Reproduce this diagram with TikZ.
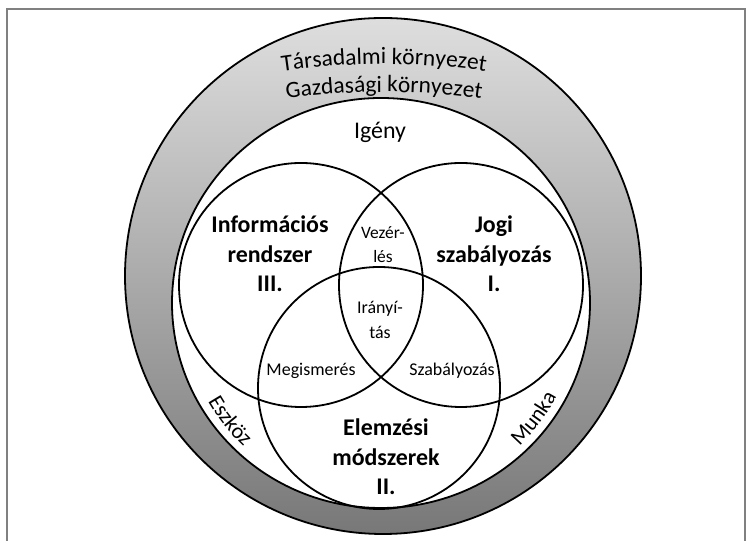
\documentclass[tikz,border=0pt]{standalone}
\usepackage{fontspec}
\setmainfont{Carlito}
\usetikzlibrary{decorations.text}
\definecolor{ringtop}{gray}{0.87}
\definecolor{ringbot}{gray}{0.47}
\definecolor{framegray}{gray}{0.5}
\newcommand{\ringfont}{\fontsize{23.5}{28}\selectfont}
\newcommand{\sidefont}{\fontsize{22}{26}\selectfont}

\begin{document}
\begin{tikzpicture}[x=1bp, y=1bp,
    venn/.style={line width=1.8bp},
    biglabel/.style={font=\fontsize{24}{29.5}\selectfont\bfseries, align=center},
    smalllabel/.style={font=\fontsize{18}{25}\selectfont, align=center}]
    \useasboundingbox (0,0) rectangle (752,541);
    \draw[framegray, line width=1.5bp] (7,-5) rectangle (745,532);

    \draw[venn, top color=ringtop, bottom color=ringbot] (383,265) circle (258);
    \draw[venn, fill=white] (381,238) ellipse (209 and 205);
    \foreach \cx/\cy/\rad in {301/256/122, 461/256/122, 379/153/121}
        \draw[venn] (\cx,\cy) circle (\rad);

    % texts in the ring
    \path[decorate, decoration={text along path, text align=center,
        text={|\ringfont|Társadalmi környezet}}] (384,-223) ++(100:700) arc (100:80:700);
    \path[decorate, decoration={text along path, text align=center,
        text={|\ringfont|Gazdasági környezet}}] (384,-251) ++(100:700) arc (100:80:700);
    \path[decorate, decoration={text along path, text align=center,
        text={|\sidefont|Eszköz}}] (381,238) ++(204:199) arc (204:232:199);
    \path[decorate, decoration={text along path, text align=center,
        text={|\sidefont|Munka}}] (381,238) ++(309:199) arc (309:337:199);

    \node[font=\fontsize{24}{28}\selectfont] (igeny) at (380,409) {Igény};
    \node[biglabel] (info) at (270,287) {Információs\\rendszer\\III.};
    \node[biglabel] (jogi) at (494,287) {Jogi\\szabályozás\\I.};
    \node[biglabel] (elemz) at (386,84) {Elemzési\\módszerek\\II.};
    \node[smalllabel, font=\fontsize{17.5}{24}\selectfont] (vezer) at (383,296) {Vezér-\\lés};
    \node[smalllabel] (irany) at (380,221) {Irányí-\\tás};
    \node[smalllabel] (megism) at (311,170) {Megismerés};
    \node[smalllabel] (szabaly) at (452,170) {Szabályozás};
\end{tikzpicture}
\end{document}
